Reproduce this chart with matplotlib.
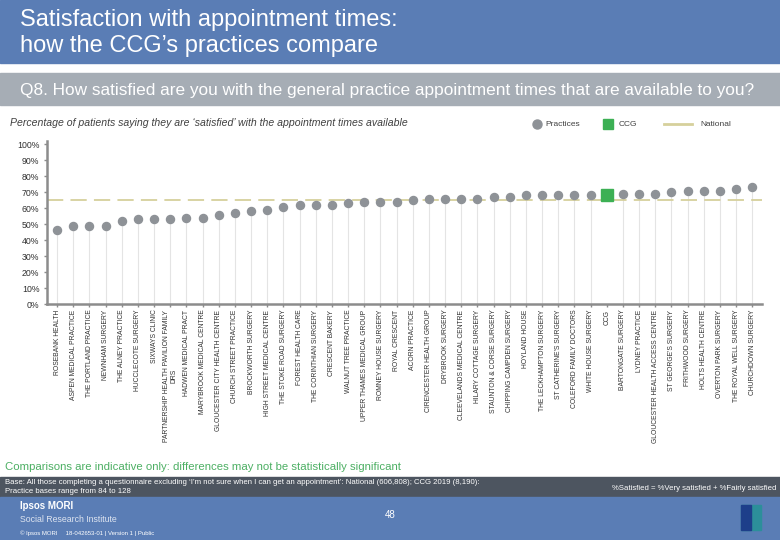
import matplotlib.pyplot as plt
from matplotlib.patches import Rectangle
from matplotlib.lines import Line2D

# practices (sorted) with the CCG placed in between
names = ['ROSEBANK HEALTH', 'ASPEN MEDICAL PRACTICE', 'THE PORTLAND PRACTICE',
         'NEWNHAM SURGERY', 'THE ALNEY PRACTICE', 'HUCCLECOTE SURGERY',
         'SIXWAYS CLINIC', 'PARTNERSHIP HEALTH PAVILION FAMILY\nDRS',
         'HADWEN MEDICAL PRACT', 'MARYBROOK MEDICAL CENTRE',
         'GLOUCESTER CITY HEALTH CENTRE', 'CHURCH STREET PRACTICE',
         'BROCKWORTH SURGERY', 'HIGH STREET MEDICAL CENTRE',
         'THE STOKE ROAD SURGERY', 'FOREST HEALTH CARE',
         'THE CORINTHIAN SURGERY', 'CRESCENT BAKERY', 'WALNUT TREE PRACTICE',
         'UPPER THAMES MEDICAL GROUP', 'ROMNEY HOUSE SURGERY', 'ROYAL CRESCENT',
         'ACORN PRACTICE', 'CIRENCESTER HEALTH GROUP', 'DRYBROOK SURGERY',
         'CLEEVELANDS MEDICAL CENTRE', 'HILARY COTTAGE SURGERY',
         'STAUNTON & CORSE SURGERY', 'CHIPPING CAMPDEN SURGERY', 'HOYLAND HOUSE',
         'THE LECKHAMPTON SURGERY', "ST CATHERINE'S SURGERY",
         'COLEFORD FAMILY DOCTORS', 'WHITE HOUSE SURGERY', 'CCG',
         'BARTONGATE SURGERY', 'LYDNEY PRACTICE',
         'GLOUCESTER HEALTH ACCESS CENTRE', "ST GEORGE'S SURGERY",
         'FRITHWOOD SURGERY', 'HOLTS HEALTH CENTRE', 'OVERTON PARK SURGERY',
         'THE ROYAL WELL SURGERY', 'CHURCHDOWN SURGERY']
values = [46, 49, 49, 49, 52, 53, 53, 53, 54, 54, 56, 57, 58, 59, 61, 62, 62, 62,
          63, 64, 64, 64, 65, 66, 66, 66, 66, 67, 67, 68, 68, 68, 68, 68, 68,
          69, 69, 69, 70, 71, 71, 71, 72, 73]
national = 65

blue = '#5a7db5'
dot_grey = '#8e9297'
green = '#3cb054'
nat_col = '#d6d09c'
axis_grey = '#8c8c8c'

plt.rcParams['font.family'] = ['Liberation Sans', 'DejaVu Sans']

fig = plt.figure(figsize=(7.8, 5.4), dpi=100)

def fy(y):
    return 1 - y / 540.0

# header bands
fig.add_artist(Rectangle((0, fy(63)), 1, 63 / 540, transform=fig.transFigure,
                         color=blue, zorder=0))
fig.add_artist(Rectangle((0, fy(105)), 1, 32 / 540, transform=fig.transFigure,
                         color='#a6adb5', zorder=0))
fig.text(20 / 780, fy(33), 'Satisfaction with appointment times:\nhow the CCG\u2019s practices compare',
         color='white', fontsize=17, va='center', ha='left', linespacing=1.2)
fig.text(20 / 780, fy(91), 'Q8. How satisfied are you with the general practice appointment times that are available to you?',
         color='white', fontsize=12.4, va='center', ha='left')
fig.text(10 / 780, fy(123), 'Percentage of patients saying they are \u2018satisfied\u2019 with the appointment times available',
         color='#404040', fontsize=7.6, style='italic', va='center')

# legend
fig.add_artist(Line2D([537 / 780], [fy(124)], marker='o', markersize=6.5, color=dot_grey,
                      transform=fig.transFigure))
fig.text(545 / 780, fy(124), 'Practices', fontsize=6, va='center', color='#404040')
fig.add_artist(Line2D([608 / 780], [fy(124)], marker='s', markersize=6.5, color=green,
                      transform=fig.transFigure))
fig.text(619 / 780, fy(124), 'CCG', fontsize=6, va='center', color='#404040')
fig.add_artist(Line2D([664 / 780, 692 / 780], [fy(124), fy(124)], color=nat_col, lw=2,
                      transform=fig.transFigure))
fig.text(700 / 780, fy(124), 'National', fontsize=6, va='center', color='#404040')

# chart
ax = fig.add_axes([47 / 780, fy(304), 715 / 780, 163 / 540])
x = list(range(len(names)))
ccg_i = names.index('CCG')
px = [i for i in x if i != ccg_i]
pv = [values[i] for i in px]

ax.vlines(px, 0, pv, color='#e4e4e4', lw=0.8, zorder=1)
ax.axhline(national, color=nat_col, lw=1.3, dashes=(9, 4), zorder=2)
ax.plot(px, pv, 'o', color=dot_grey, markersize=5.8, zorder=3)
ax.plot([ccg_i], [values[ccg_i]], 's', color=green, markersize=8.5, zorder=3)

ax.set_xlim(-0.62, 43.6)
ax.set_ylim(0, 102)
ax.set_yticks(range(0, 101, 10))
ax.set_yticklabels([f'{v}%' for v in range(0, 101, 10)])
ax.set_xticks(x)
ax.set_xticklabels(names, rotation=90, fontsize=4.9, color='#303030',
                   linespacing=1.0, ha='center', va='top')
ax.tick_params(axis='y', labelsize=6.3, labelcolor='#303030', color=axis_grey,
               length=2, width=1)
ax.tick_params(axis='x', color=axis_grey, length=2, width=1, pad=2)
for s in ['top', 'right']:
    ax.spines[s].set_visible(False)
for s in ['left', 'bottom']:
    ax.spines[s].set_color(axis_grey)
    ax.spines[s].set_linewidth(1.8)

# footer
fig.text(5 / 780, fy(467), 'Comparisons are indicative only: differences may not be statistically significant',
         color='#4caf63', fontsize=8.2, va='center')
fig.add_artist(Rectangle((0, fy(497)), 1, 20 / 540, transform=fig.transFigure,
                         color='#4d5560', zorder=0))
fig.text(5 / 780, fy(487), 'Base: All those completing a questionnaire excluding \u2018I\u2019m not sure when I can get an appointment\u2019: National (606,808); CCG 2019 (8,190):\nPractice bases range from 84 to 128',
         color='white', fontsize=5.6, va='center', linespacing=1.55)
fig.text(776 / 780, fy(488), '%Satisfied = %Very satisfied + %Fairly satisfied',
         color='white', fontsize=5.6, va='center', ha='right')
fig.add_artist(Rectangle((0, 0), 1, 43 / 540, transform=fig.transFigure,
                         color=blue, zorder=0))
fig.text(20 / 780, fy(506), 'Ipsos MORI', color='white', fontsize=7, va='center',
         weight='bold')
fig.text(20 / 780, fy(520), 'Social Research Institute', color='#dde4f0', fontsize=6.3, va='center')
fig.text(20 / 780, fy(533), '\u00a9 Ipsos MORI     18-042653-01 | Version 1 | Public',
         color='white', fontsize=4.3, va='center')
fig.text(390 / 780, fy(515), '48', color='white', fontsize=7, ha='center', va='center')
fig.add_artist(Rectangle((741 / 780, fy(530)), 20 / 780, 25 / 540, transform=fig.transFigure,
                         color='#2c8f9a', zorder=1))
fig.add_artist(Rectangle((741 / 780, fy(530)), 10 / 780, 25 / 540, transform=fig.transFigure,
                         color='#1d3f8a', zorder=1))

fig.savefig('out.png', dpi=100)
